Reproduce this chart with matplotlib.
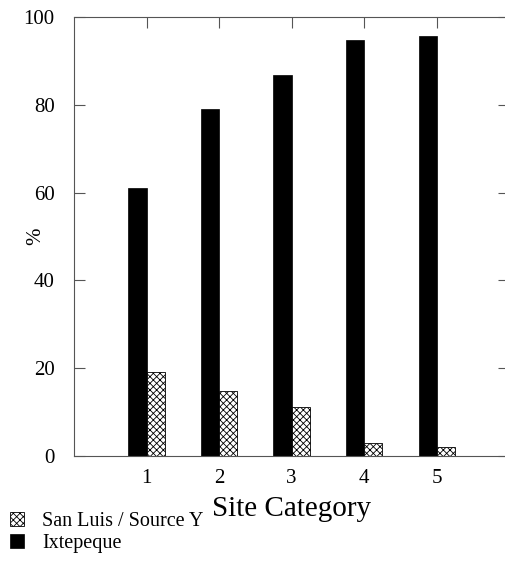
import numpy as np
import matplotlib.pyplot as plt

categories = [1, 2, 3, 4, 5]
ixtepeque = [61.0, 79.0, 86.8, 94.8, 95.7]
san_luis = [19.2, 14.8, 11.2, 2.9, 2.0]
yticks = [0, 20, 40, 60, 80, 100]

plt.rcParams['font.family'] = ['Liberation Serif', 'DejaVu Serif']
plt.rcParams['hatch.linewidth'] = 0.6

fig = plt.figure(figsize=(5.05, 5.78), dpi=100)
ax = fig.add_axes([0.1465, 0.211, 0.862, 0.7595])

x = np.array(categories)
w = 0.25
b1 = ax.bar(x - w / 2, ixtepeque, w, color='black', edgecolor='black', linewidth=0.5,
            label='Ixtepeque')
b2 = ax.bar(x + w / 2, san_luis, w, color='white', edgecolor='black', linewidth=0.6,
            hatch='xxxxx', label='San Luis / Source Y')

ax.set_xlim(0, 6)
ax.set_ylim(0, 100)
ax.set_yticks(yticks)
ax.set_xticks(categories)
for s in ax.spines.values():
    s.set_color('#555555')
    s.set_linewidth(0.8)
ax.spines['right'].set_visible(False)

ax.tick_params(axis='y', direction='in', length=8, width=0.8, color='#555555',
               labelsize=15, pad=14, right=True)
ax.tick_params(axis='x', direction='in', length=8, width=0.8, color='#555555',
               labelsize=15, pad=9, top=True, bottom=False)

ax.set_xlabel('Site Category', fontsize=21, labelpad=6)
ax.set_ylabel('%', fontsize=15)
ax.yaxis.set_label_coords(-0.065, 0.5)

fig.legend([b2, b1], ['San Luis / Source Y', 'Ixtepeque'], loc='upper left',
           bbox_to_anchor=(0.012, 0.122), frameon=False, fontsize=14.5,
           handlelength=0.7, handleheight=0.7, handletextpad=0.9, labelspacing=0.15,
           borderaxespad=0.0, borderpad=0.2)

fig.savefig('out.png', dpi=100)
